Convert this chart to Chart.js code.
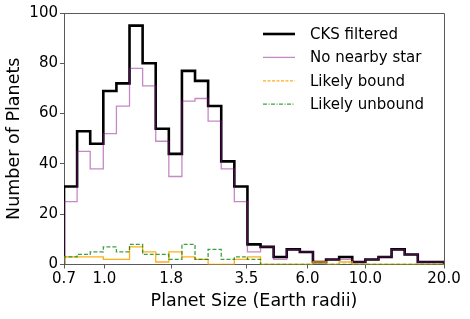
<!DOCTYPE html>
<html>
<head>
<meta charset="utf-8">
<script src="https://cdn.jsdelivr.net/npm/chart.js@4/dist/chart.umd.min.js"></script>
<style>
  html, body { margin: 0; padding: 0; background: #fff; }
  #wrap { width: 470px; height: 319px; }
</style>
</head>
<body>
<div id="wrap"><canvas id="hist" width="470" height="319"></canvas></div>
<script>
// bin edges (log-spaced, 0.7 .. 20 Earth radii, 29 bins)
const binEdges = [0.7, 0.7858, 0.8821, 0.9902, 1.1115, 1.2477, 1.4006, 1.5722, 1.7649, 1.9811,
    2.2239, 2.4964, 2.8023, 3.1457, 3.5312, 3.9639, 4.4496, 4.9949, 5.6070, 6.2941,
    7.0653, 7.9311, 8.9030, 9.9940, 11.2186, 12.5933, 14.1365, 15.8688, 17.8134, 20.0];

// counts per bin
const cksFiltered   = [31, 53, 48, 69, 72, 95, 80, 54, 44, 77, 73, 63, 41, 31, 8, 7, 3, 6, 5, 1, 2, 3, 1, 2, 3, 6, 4, 1, 1];
const noNearbyStar  = [25, 45, 38, 52, 63, 78, 71, 49, 35, 65, 66, 57, 38, 25, 5, 7, 2, 6, 5, 0, 2, 2, 1, 2, 3, 6, 4, 1, 1];
const likelyBound   = [3, 3, 3, 2, 2, 7, 5, 1, 5, 3, 2, 0, 0, 2, 3, 0, 0, 0, 0, 1, 0, 1, 0, 0, 0, 0, 0, 0, 0];
const likelyUnbound = [3, 4, 5, 7, 5, 8, 4, 4, 2, 8, 2, 6, 2, 3, 2, 0, 0, 0, 0, 0, 0, 0, 0, 0, 0, 0, 0, 0, 0];

const xTickValues = [0.7, 1.0, 1.8, 3.5, 6.0, 10.0, 20.0];
const yTickValues = [0, 20, 40, 60, 80, 100];

const axisColor = '#5a5a5a';
Chart.defaults.font.family = 'DejaVu Sans';

// turn bin counts into a step outline (like histtype='step')
function stepPoints(counts) {
    const pts = [{ x: binEdges[0], y: 0 }];
    counts.forEach((c, i) => pts.push({ x: binEdges[i], y: c }));
    pts.push({ x: binEdges[counts.length], y: counts[counts.length - 1] });
    pts.push({ x: binEdges[counts.length], y: 0 });
    return pts;
}

const series = [
    { label: 'CKS filtered', data: cksFiltered, color: '#000000', width: 2.6, dash: [], legendDash: [], order: 4 },
    { label: 'No nearby star', data: noNearbyStar, color: 'rgba(140,20,140,0.5)', width: 1.3, dash: [], legendDash: [], order: 3 },
    { label: 'Likely bound', data: likelyBound, color: 'rgba(255,165,0,0.9)', width: 1.3, dash: [], legendDash: [3, 1.5], order: 2 },
    { label: 'Likely unbound', data: likelyUnbound, color: 'rgba(0,128,0,0.75)', width: 1.3, dash: [4, 2], legendDash: [4, 1.5, 1, 1.5], order: 1 }
];

// top + right spines
const framePlugin = {
    id: 'frame',
    afterDraw(chart) {
        const { ctx, chartArea: a } = chart;
        ctx.save();
        ctx.strokeStyle = axisColor;
        ctx.lineWidth = 1;
        ctx.beginPath();
        ctx.moveTo(a.left, a.top + 0.5);
        ctx.lineTo(a.right + 0.5, a.top + 0.5);
        ctx.lineTo(a.right + 0.5, a.bottom);
        ctx.stroke();
        ctx.restore();
    }
};

// matplotlib-style legend without frame, upper right
const legendPlugin = {
    id: 'mplLegend',
    afterDraw(chart) {
        const { ctx } = chart;
        ctx.save();
        ctx.font = '15px "DejaVu Sans"';
        ctx.textBaseline = 'middle';
        ctx.fillStyle = '#000';
        series.forEach((s, i) => {
            const y = 34 + i * 23.4;
            ctx.strokeStyle = s.color;
            ctx.lineWidth = s.width;
            ctx.setLineDash(s.legendDash);
            ctx.beginPath();
            ctx.moveTo(263, y);
            ctx.lineTo(295, y);
            ctx.stroke();
            ctx.setLineDash([]);
            ctx.fillText(s.label, 310, y + 1);
        });
        ctx.restore();
    }
};

const chart = new Chart(document.getElementById('hist'), {
    type: 'line',
    data: {
        datasets: series.map(s => ({
            label: s.label,
            data: stepPoints(s.data),
            borderColor: s.color,
            borderWidth: s.width,
            borderDash: s.dash,
            stepped: 'before',
            pointRadius: 0,
            fill: false,
            tension: 0,
            order: s.order
        }))
    },
    options: {
        responsive: false,
        animation: false,
        layout: { padding: { left: 0, right: 26, top: 13, bottom: 0 } },
        plugins: {
            legend: { display: false },
            tooltip: { enabled: false }
        },
        scales: {
            x: {
                type: 'logarithmic',
                min: 0.7,
                max: 20,
                bounds: 'data',
                afterBuildTicks: scale => {
                    scale.ticks = xTickValues.map(v => ({ value: v }));
                },
                afterFit: scale => { scale.height = 54.5; },
                ticks: {
                    callback: v => Number(v).toFixed(1),
                    color: '#000',
                    font: { size: 15 },
                    padding: 2,
                    maxRotation: 0,
                    autoSkip: false
                },
                grid: { drawOnChartArea: false, tickLength: 4, color: axisColor },
                border: { color: axisColor },
                title: {
                    display: true,
                    text: 'Planet Size (Earth radii)',
                    color: '#000',
                    font: { size: 17.5 },
                    padding: { top: 0, bottom: 7 }
                }
            },
            y: {
                min: 0,
                max: 100,
                afterBuildTicks: scale => {
                    scale.ticks = yTickValues.map(v => ({ value: v }));
                },
                afterFit: scale => { scale.width = 64; },
                ticks: {
                    color: '#000',
                    font: { size: 15 },
                    padding: 2
                },
                grid: { drawOnChartArea: false, tickLength: 4, color: axisColor },
                border: { color: axisColor },
                title: {
                    display: true,
                    text: 'Number of Planets',
                    color: '#000',
                    font: { size: 17.5 },
                    padding: { top: 4, bottom: 0 }
                }
            }
        }
    },
    plugins: [framePlugin, legendPlugin]
});
</script>
</body>
</html>
